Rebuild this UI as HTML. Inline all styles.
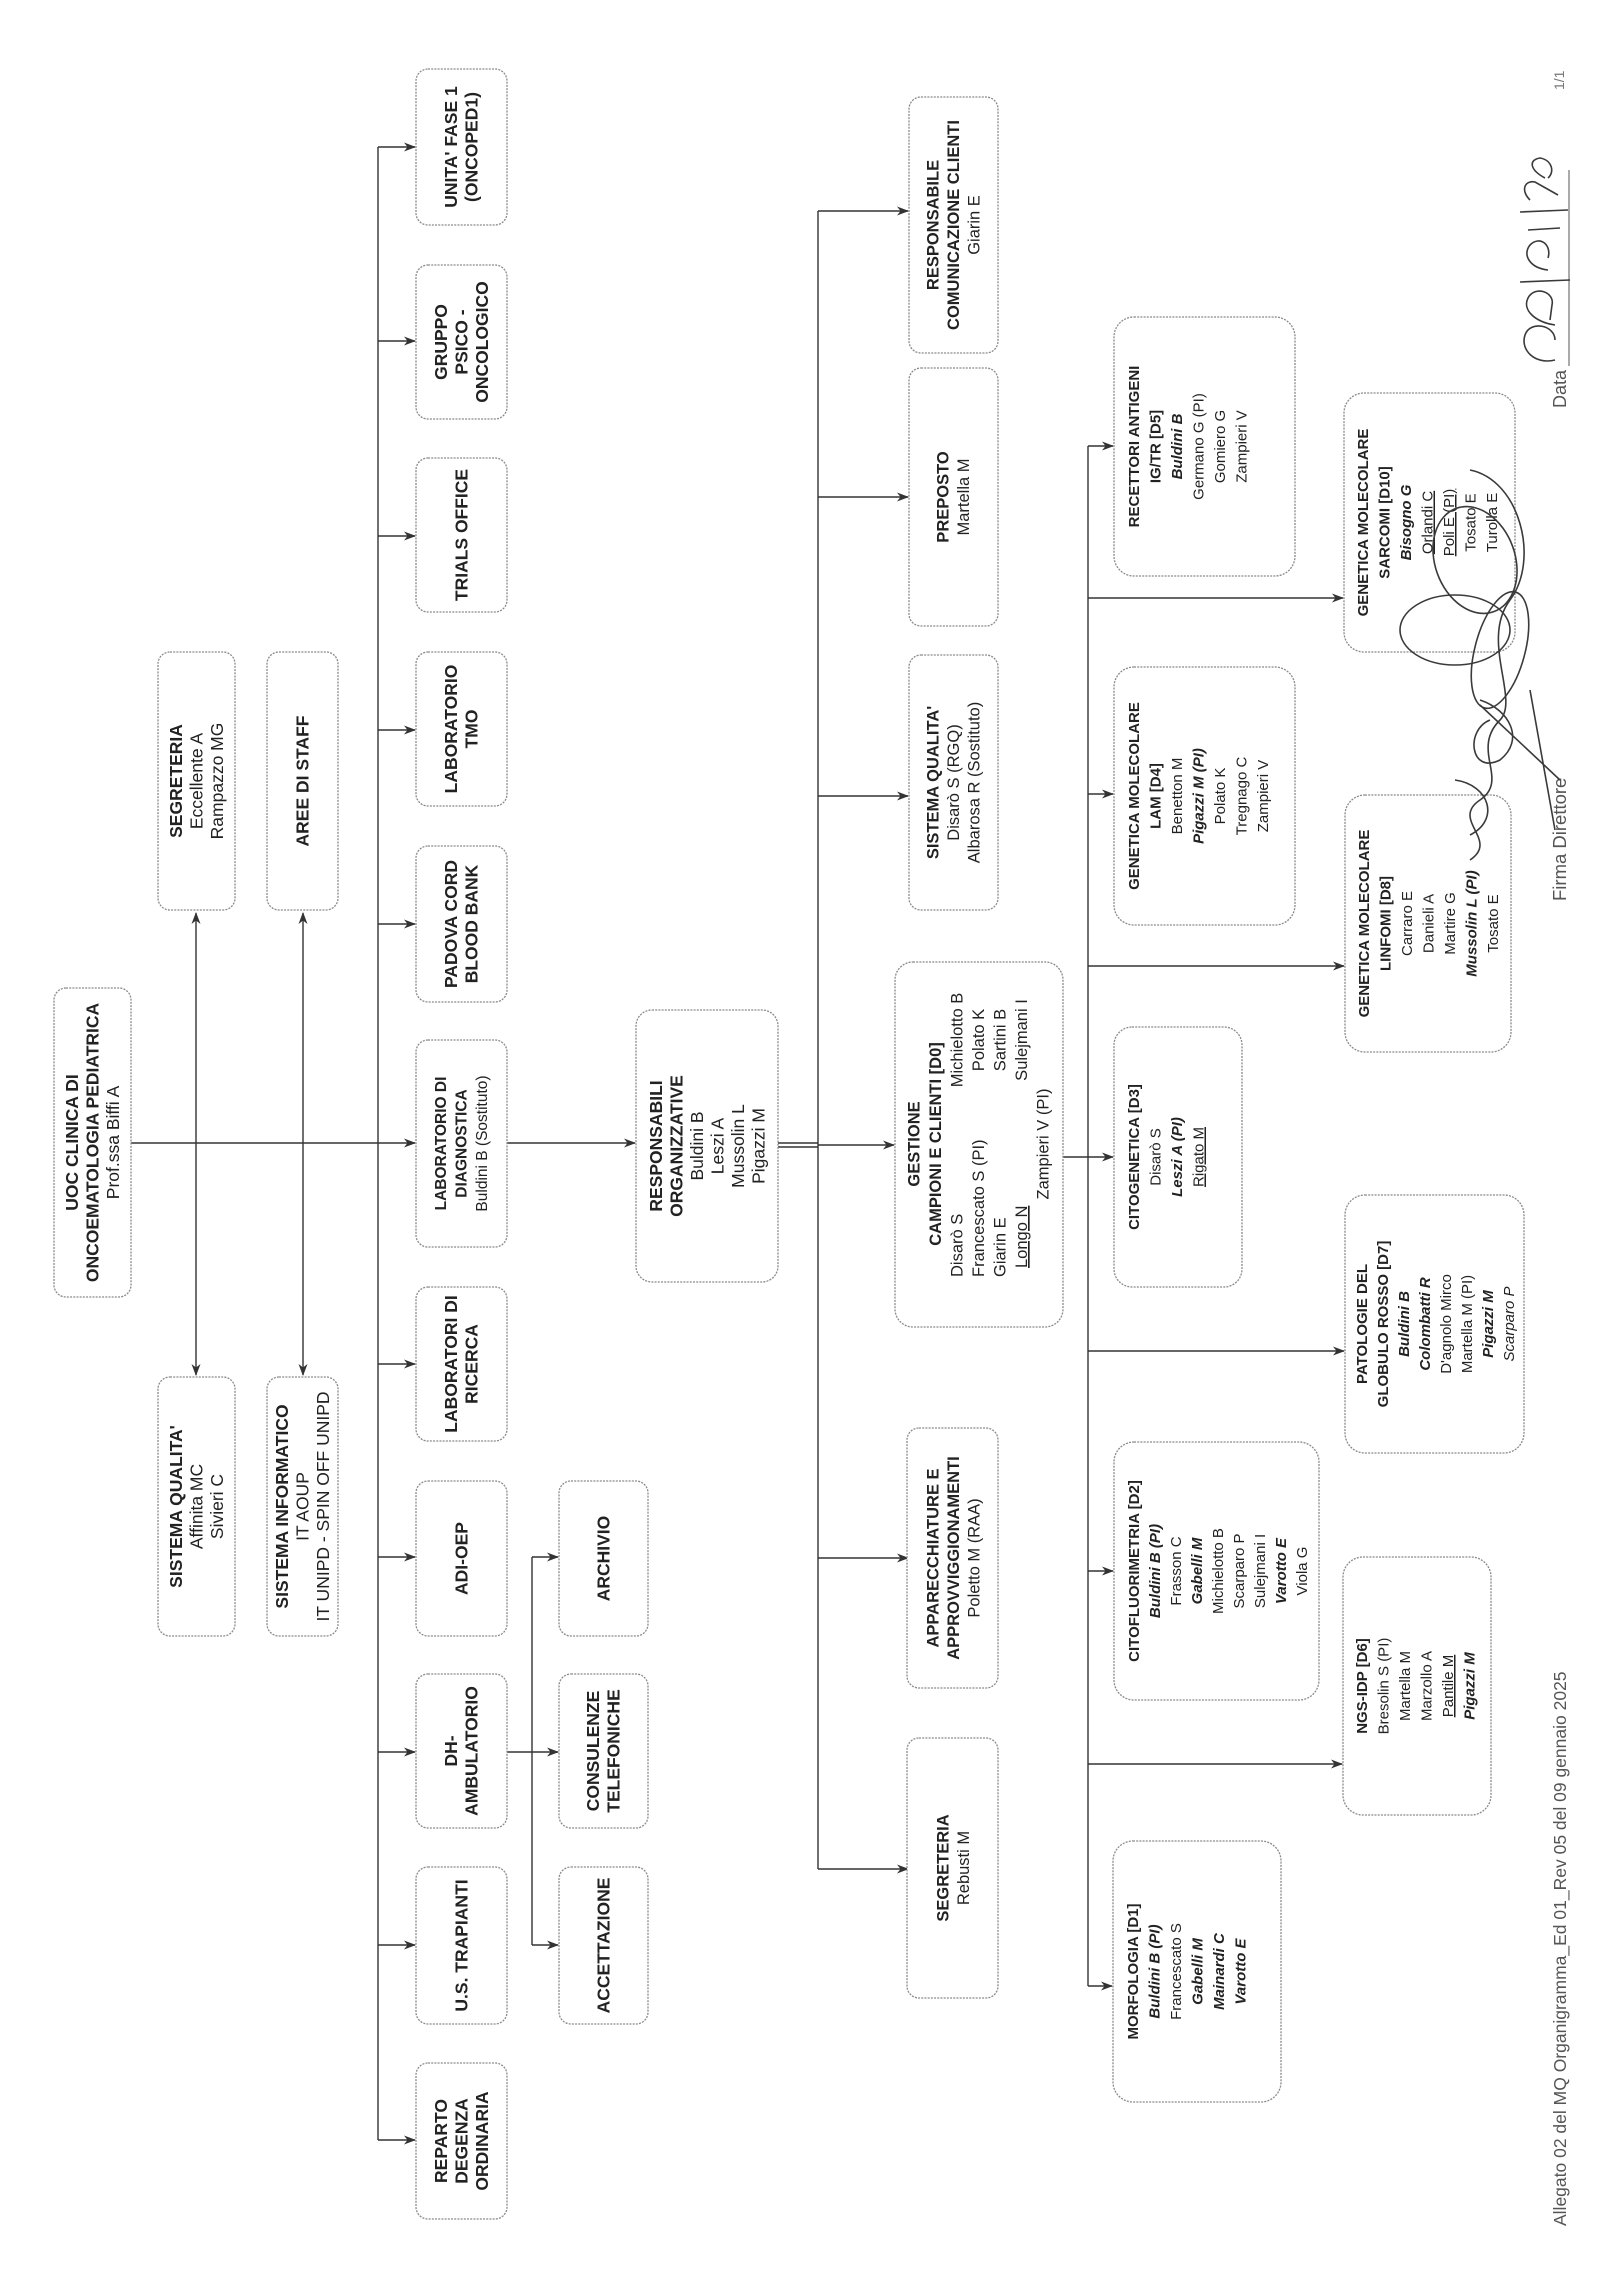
<!DOCTYPE html>
<html><head><meta charset="utf-8"><style>
html,body{margin:0;padding:0;background:#fff;}
svg{display:block;}
text{font-family:"Liberation Sans",Arial,sans-serif;font-size:15px;fill:#222;}
.L{font-size:17.5px;}
.M{font-size:16.5px;}
.b{font-weight:bold;}
.bi{font-weight:bold;font-style:italic;}
.i{font-style:italic;}
.u{text-decoration:underline;}
.box{fill:#fff;stroke:#8a8a8a;stroke-width:1.3;stroke-dasharray:2 1.2;}
.ln{stroke:#333;stroke-width:1.4;fill:none;}
.hw{stroke:#3a3a3a;stroke-width:1.6;fill:none;}
</style></head><body>
<svg width="1600" height="2290" viewBox="0 0 1600 2290" xmlns="http://www.w3.org/2000/svg">
<defs>
<marker id="a" markerWidth="12" markerHeight="10" refX="11" refY="5" orient="auto-start-reverse" markerUnits="userSpaceOnUse">
<path d="M0,0.5 L12,5 L0,9.5 L3.5,5 z" fill="#333"/>
</marker>
</defs>

<line class="ln" x1="378" y1="147" x2="378" y2="2140"/>
<line class="ln" x1="378" y1="147" x2="415" y2="147" marker-end="url(#a)"/>
<line class="ln" x1="378" y1="341" x2="415" y2="341" marker-end="url(#a)"/>
<line class="ln" x1="378" y1="536" x2="415" y2="536" marker-end="url(#a)"/>
<line class="ln" x1="378" y1="730" x2="415" y2="730" marker-end="url(#a)"/>
<line class="ln" x1="378" y1="924" x2="415" y2="924" marker-end="url(#a)"/>
<line class="ln" x1="131" y1="1143" x2="415" y2="1143" marker-end="url(#a)"/>
<line class="ln" x1="378" y1="1364" x2="415" y2="1364" marker-end="url(#a)"/>
<line class="ln" x1="378" y1="1557" x2="415" y2="1557" marker-end="url(#a)"/>
<line class="ln" x1="378" y1="1752" x2="415" y2="1752" marker-end="url(#a)"/>
<line class="ln" x1="378" y1="1945" x2="415" y2="1945" marker-end="url(#a)"/>
<line class="ln" x1="378" y1="2140" x2="415" y2="2140" marker-end="url(#a)"/>
<line class="ln" x1="196" y1="913" x2="196" y2="1375" marker-start="url(#a)" marker-end="url(#a)"/>
<line class="ln" x1="303" y1="913" x2="303" y2="1375" marker-start="url(#a)" marker-end="url(#a)"/>
<line class="ln" x1="507" y1="1752" x2="532" y2="1752"/>
<line class="ln" x1="532" y1="1557" x2="532" y2="1945"/>
<line class="ln" x1="532" y1="1557" x2="558" y2="1557" marker-end="url(#a)"/>
<line class="ln" x1="532" y1="1752" x2="558" y2="1752" marker-end="url(#a)"/>
<line class="ln" x1="532" y1="1945" x2="558" y2="1945" marker-end="url(#a)"/>
<line class="ln" x1="507" y1="1143" x2="635" y2="1143" marker-end="url(#a)"/>
<line class="ln" x1="778" y1="1143" x2="818" y2="1143"/>
<line class="ln" x1="778" y1="1147" x2="818" y2="1147"/>

<line class="ln" x1="818" y1="211" x2="818" y2="1869"/>
<line class="ln" x1="818" y1="211" x2="908" y2="211" marker-end="url(#a)"/>
<line class="ln" x1="818" y1="497" x2="908" y2="497" marker-end="url(#a)"/>
<line class="ln" x1="818" y1="796" x2="908" y2="796" marker-end="url(#a)"/>
<line class="ln" x1="818" y1="1145" x2="894" y2="1145" marker-end="url(#a)"/>
<line class="ln" x1="818" y1="1558" x2="908" y2="1558" marker-end="url(#a)"/>
<line class="ln" x1="818" y1="1869" x2="908" y2="1869" marker-end="url(#a)"/>

<line class="ln" x1="1088" y1="446" x2="1088" y2="1986"/>
<line class="ln" x1="1063" y1="1157" x2="1113" y2="1157" marker-end="url(#a)"/>
<line class="ln" x1="1088" y1="446" x2="1113" y2="446" marker-end="url(#a)"/>
<line class="ln" x1="1088" y1="794" x2="1113" y2="794" marker-end="url(#a)"/>
<line class="ln" x1="1088" y1="1571" x2="1113" y2="1571" marker-end="url(#a)"/>
<line class="ln" x1="1088" y1="1986" x2="1112" y2="1986" marker-end="url(#a)"/>
<line class="ln" x1="1088" y1="598" x2="1343" y2="598" marker-end="url(#a)"/>
<line class="ln" x1="1088" y1="966" x2="1344" y2="966" marker-end="url(#a)"/>
<line class="ln" x1="1088" y1="1351" x2="1344" y2="1351" marker-end="url(#a)"/>
<line class="ln" x1="1088" y1="1764" x2="1342" y2="1764" marker-end="url(#a)"/>

<rect class="box" x="54" y="988" width="77" height="309" rx="12"/>
<rect class="box" x="158" y="652" width="77" height="258" rx="12"/>
<rect class="box" x="267" y="652" width="71" height="258" rx="12"/>
<rect class="box" x="158" y="1377" width="77" height="259" rx="12"/>
<rect class="box" x="267" y="1377" width="71" height="259" rx="12"/>

<rect class="box" x="416" y="69" width="91" height="156" rx="12"/>
<rect class="box" x="416" y="265" width="91" height="154" rx="12"/>
<rect class="box" x="416" y="458" width="91" height="154" rx="12"/>
<rect class="box" x="416" y="652" width="91" height="154" rx="12"/>
<rect class="box" x="416" y="846" width="91" height="156" rx="12"/>
<rect class="box" x="416" y="1040" width="91" height="207" rx="12"/>
<rect class="box" x="416" y="1287" width="91" height="154" rx="12"/>
<rect class="box" x="416" y="1481" width="91" height="155" rx="12"/>
<rect class="box" x="416" y="1674" width="91" height="154" rx="12"/>
<rect class="box" x="416" y="1867" width="91" height="157" rx="12"/>
<rect class="box" x="416" y="2063" width="91" height="156" rx="12"/>

<rect class="box" x="559" y="1481" width="89" height="155" rx="12"/>
<rect class="box" x="559" y="1674" width="89" height="154" rx="12"/>
<rect class="box" x="559" y="1867" width="89" height="157" rx="12"/>

<rect class="box" x="636" y="1010" width="142" height="272" rx="16"/>

<rect class="box" x="909" y="97" width="89" height="256" rx="12"/>
<rect class="box" x="909" y="368" width="89" height="258" rx="12"/>
<rect class="box" x="909" y="655" width="89" height="255" rx="12"/>
<rect class="box" x="907" y="1428" width="91" height="260" rx="12"/>
<rect class="box" x="907" y="1738" width="91" height="260" rx="12"/>

<rect class="box" x="895" y="962" width="168" height="365" rx="18"/>

<rect class="box" x="1114" y="317" width="181" height="259" rx="20"/>
<rect class="box" x="1114" y="667" width="181" height="258" rx="20"/>
<rect class="box" x="1114" y="1027" width="128" height="260" rx="18"/>
<rect class="box" x="1114" y="1442" width="205" height="258" rx="20"/>
<rect class="box" x="1113" y="1841" width="168" height="261" rx="20"/>

<rect class="box" x="1344" y="393" width="171" height="259" rx="20"/>
<rect class="box" x="1345" y="795" width="166" height="257" rx="20"/>
<rect class="box" x="1345" y="1195" width="179" height="258" rx="20"/>
<rect class="box" x="1343" y="1557" width="148" height="258" rx="20"/>

<text class="L" transform="translate(78,1142.5) rotate(-90)" text-anchor="middle"><tspan class="b" x="0" dy="0">UOC CLINICA DI</tspan><tspan class="b" x="0" dy="20.5">ONCOEMATOLOGIA PEDIATRICA</tspan><tspan x="0" dy="20.5">Prof.ssa Biffi A</tspan></text>
<text class="L" transform="translate(182,781) rotate(-90)" text-anchor="middle"><tspan class="b" x="0" dy="0">SEGRETERIA</tspan><tspan x="0" dy="20.5">Eccellente A</tspan><tspan x="0" dy="20.5">Rampazzo MG</tspan></text>
<text class="L b" transform="translate(308.5,781) rotate(-90)" text-anchor="middle">AREE DI STAFF</text>
<text class="L" transform="translate(182,1506.5) rotate(-90)" text-anchor="middle"><tspan class="b" x="0" dy="0">SISTEMA QUALITA'</tspan><tspan x="0" dy="20.5">Affinita MC</tspan><tspan x="0" dy="20.5">Sivieri C</tspan></text>
<text class="L" transform="translate(288,1506.5) rotate(-90)" text-anchor="middle"><tspan class="b" x="0" dy="0">SISTEMA INFORMATICO</tspan><tspan x="0" dy="20.5">IT AOUP</tspan><tspan x="0" dy="20.5">IT UNIPD - SPIN OFF UNIPD</tspan></text>

<text class="L b" transform="translate(457,147) rotate(-90)" text-anchor="middle"><tspan x="0" dy="0">UNITA' FASE 1</tspan><tspan x="0" dy="20.5">(ONCOPED1)</tspan></text>
<text class="L b" transform="translate(447,342) rotate(-90)" text-anchor="middle"><tspan x="0" dy="0">GRUPPO</tspan><tspan x="0" dy="20.5">PSICO -</tspan><tspan x="0" dy="20.5">ONCOLOGICO</tspan></text>
<text class="L b" transform="translate(467.5,535) rotate(-90)" text-anchor="middle">TRIALS OFFICE</text>
<text class="L b" transform="translate(457,729) rotate(-90)" text-anchor="middle"><tspan x="0" dy="0">LABORATORIO</tspan><tspan x="0" dy="20.5">TMO</tspan></text>
<text class="L b" transform="translate(457,924) rotate(-90)" text-anchor="middle"><tspan x="0" dy="0">PADOVA CORD</tspan><tspan x="0" dy="20.5">BLOOD BANK</tspan></text>
<text transform="translate(446,1143.5) rotate(-90)" text-anchor="middle" style="font-size:15.5px"><tspan class="b" x="0" dy="0">LABORATORIO DI</tspan><tspan class="b" x="0" dy="20.5">DIAGNOSTICA</tspan><tspan x="0" dy="20.5">Buldini B (Sostituto)</tspan></text>
<text class="L b" transform="translate(457,1364) rotate(-90)" text-anchor="middle"><tspan x="0" dy="0">LABORATORI DI</tspan><tspan x="0" dy="20.5">RICERCA</tspan></text>
<text class="L b" transform="translate(467.5,1558.5) rotate(-90)" text-anchor="middle">ADI-OEP</text>
<text class="L b" transform="translate(457,1751) rotate(-90)" text-anchor="middle"><tspan x="0" dy="0">DH-</tspan><tspan x="0" dy="20.5">AMBULATORIO</tspan></text>
<text class="L b" transform="translate(467.5,1945.5) rotate(-90)" text-anchor="middle">U.S. TRAPIANTI</text>
<text class="L b" transform="translate(447,2141) rotate(-90)" text-anchor="middle"><tspan x="0" dy="0">REPARTO</tspan><tspan x="0" dy="20.5">DEGENZA</tspan><tspan x="0" dy="20.5">ORDINARIA</tspan></text>

<text class="L b" transform="translate(609.5,1558.5) rotate(-90)" text-anchor="middle">ARCHIVIO</text>
<text class="L b" transform="translate(599,1751) rotate(-90)" text-anchor="middle"><tspan x="0" dy="0">CONSULENZE</tspan><tspan x="0" dy="20.5">TELEFONICHE</tspan></text>
<text class="L b" transform="translate(609.5,1945.5) rotate(-90)" text-anchor="middle">ACCETTAZIONE</text>

<text class="L" transform="translate(662,1146) rotate(-90)" text-anchor="middle"><tspan class="b" x="0" dy="0">RESPONSABILI</tspan><tspan class="b" x="0" dy="20.5">ORGANIZZATIVE</tspan><tspan x="0" dy="20.5">Buldini B</tspan><tspan x="0" dy="20.5">Leszi A</tspan><tspan x="0" dy="20.5">Mussolin L</tspan><tspan x="0" dy="20.5">Pigazzi M</tspan></text>

<text class="M" transform="translate(938.5,225) rotate(-90)" text-anchor="middle"><tspan class="b" x="0" dy="0">RESPONSABILE</tspan><tspan class="b" x="0" dy="20.5">COMUNICAZIONE CLIENTI</tspan><tspan x="0" dy="20.5">Giarin E</tspan></text>
<text class="M" transform="translate(948.5,497) rotate(-90)" text-anchor="middle"><tspan class="b" x="0" dy="0">PREPOSTO</tspan><tspan x="0" dy="20.5">Martella M</tspan></text>
<text class="M" transform="translate(938.5,782.5) rotate(-90)" text-anchor="middle"><tspan class="b" x="0" dy="0">SISTEMA QUALITA'</tspan><tspan x="0" dy="20.5">Disarò S (RGQ)</tspan><tspan x="0" dy="20.5">Albarosa R (Sostituto)</tspan></text>
<text class="M" transform="translate(938.5,1558) rotate(-90)" text-anchor="middle"><tspan class="b" x="0" dy="0">APPARECCHIATURE E</tspan><tspan class="b" x="0" dy="20.5">APPROVVIGGIONAMENTI</tspan><tspan x="0" dy="20.5">Poletto M (RAA)</tspan></text>
<text class="M" transform="translate(948.5,1868) rotate(-90)" text-anchor="middle"><tspan class="b" x="0" dy="0">SEGRETERIA</tspan><tspan x="0" dy="20.5">Rebusti M</tspan></text>

<text class="M" transform="translate(919.5,1144) rotate(-90)" text-anchor="middle"><tspan class="b" x="0" dy="0">GESTIONE</tspan><tspan class="b" x="0" dy="21.5">CAMPIONI E CLIENTI [D0]</tspan></text>
<text class="M" transform="translate(962.5,1144) rotate(-90)" text-anchor="start"><tspan x="-133" dy="0">Disarò S</tspan><tspan x="-133" dy="21.5">Francescato S (PI)</tspan><tspan x="-133" dy="21.5">Giarin E</tspan><tspan class="u" x="-124" dy="21.5">Longo N</tspan></text>
<text class="M" transform="translate(962.5,1144) rotate(-90)" text-anchor="middle"><tspan x="104" dy="0">Michielotto B</tspan><tspan x="104" dy="21.5">Polato K</tspan><tspan x="104" dy="21.5">Sartini B</tspan><tspan x="104" dy="21.5">Sulejmani I</tspan><tspan x="0" dy="21.5">Zampieri V (PI)</tspan></text>

<text transform="translate(1139,446.5) rotate(-90)" text-anchor="middle"><tspan class="b" x="0" dy="0">RECETTORI ANTIGENI</tspan><tspan class="b" x="0" dy="21.5">IG/TR [D5]</tspan><tspan class="bi" x="0" dy="21.5">Buldini B</tspan><tspan x="0" dy="21.5">Germano G (PI)</tspan><tspan x="0" dy="21.5">Gomiero G</tspan><tspan x="0" dy="21.5">Zampieri V</tspan></text>
<text transform="translate(1139,796) rotate(-90)" text-anchor="middle"><tspan class="b" x="0" dy="0">GENETICA MOLECOLARE</tspan><tspan class="b" x="0" dy="21.5">LAM [D4]</tspan><tspan x="0" dy="21.5">Benetton M</tspan><tspan class="bi" x="0" dy="21.5">Pigazzi M (PI)</tspan><tspan x="0" dy="21.5">Polato K</tspan><tspan x="0" dy="21.5">Tregnago C</tspan><tspan x="0" dy="21.5">Zampieri V</tspan></text>
<text transform="translate(1139,1157) rotate(-90)" text-anchor="middle"><tspan class="b" x="0" dy="0">CITOGENETICA [D3]</tspan><tspan x="0" dy="21.5">Disarò S</tspan><tspan class="bi" x="0" dy="21.5">Leszi A (PI)</tspan><tspan class="u" x="0" dy="21.5">Rigato M</tspan></text>
<text transform="translate(1139,1571) rotate(-90)" text-anchor="middle"><tspan class="b" x="0" dy="0">CITOFLUORIMETRIA [D2]</tspan><tspan class="bi" x="0" dy="21">Buldini B (PI)</tspan><tspan x="0" dy="21">Frasson C</tspan><tspan class="bi" x="0" dy="21">Gabelli M</tspan><tspan x="0" dy="21">Michielotto B</tspan><tspan x="0" dy="21">Scarparo P</tspan><tspan x="0" dy="21">Sulejmani I</tspan><tspan class="bi" x="0" dy="21">Varotto E</tspan><tspan x="0" dy="21">Viola G</tspan></text>
<text transform="translate(1138,1971.5) rotate(-90)" text-anchor="middle"><tspan class="b" x="0" dy="0">MORFOLOGIA [D1]</tspan><tspan class="bi" x="0" dy="21.5">Buldini B (PI)</tspan><tspan x="0" dy="21.5">Francescato S</tspan><tspan class="bi" x="0" dy="21.5">Gabelli M</tspan><tspan class="bi" x="0" dy="21.5">Mainardi C</tspan><tspan class="bi" x="0" dy="21.5">Varotto E</tspan></text>

<text transform="translate(1368,522.5) rotate(-90)" text-anchor="middle"><tspan class="b" x="0" dy="0">GENETICA MOLECOLARE</tspan><tspan class="b" x="0" dy="21.5">SARCOMI [D10]</tspan><tspan class="bi" x="0" dy="21.5">Bisogno G</tspan><tspan class="u" x="0" dy="21.5">Orlandi C</tspan><tspan class="u" x="0" dy="21.5">Poli E (PI)</tspan><tspan x="0" dy="21.5">Tosato E</tspan><tspan x="0" dy="21.5">Turolla E</tspan></text>
<text transform="translate(1369,923.5) rotate(-90)" text-anchor="middle"><tspan class="b" x="0" dy="0">GENETICA MOLECOLARE</tspan><tspan class="b" x="0" dy="21.5">LINFOMI [D8]</tspan><tspan x="0" dy="21.5">Carraro E</tspan><tspan x="0" dy="21.5">Danieli A</tspan><tspan x="0" dy="21.5">Martire G</tspan><tspan class="bi" x="0" dy="21.5">Mussolin L (PI)</tspan><tspan x="0" dy="21.5">Tosato E</tspan></text>
<text transform="translate(1367,1324) rotate(-90)" text-anchor="middle"><tspan class="b" x="0" dy="0">PATOLOGIE DEL</tspan><tspan class="b" x="0" dy="21">GLOBULO ROSSO [D7]</tspan><tspan class="bi" x="0" dy="21">Buldini B</tspan><tspan class="bi" x="0" dy="21">Colombatti R</tspan><tspan x="0" dy="21">D'agnolo Mirco</tspan><tspan x="0" dy="21">Martella M (PI)</tspan><tspan class="bi" x="0" dy="21">Pigazzi M</tspan><tspan class="i" x="0" dy="21">Scarparo P</tspan></text>
<text transform="translate(1367,1686) rotate(-90)" text-anchor="middle"><tspan class="b" x="0" dy="0">NGS-IDP [D6]</tspan><tspan x="0" dy="21.5">Bresolin S (PI)</tspan><tspan x="0" dy="21.5">Martella M</tspan><tspan x="0" dy="21.5">Marzollo A</tspan><tspan class="u" x="0" dy="21.5">Pantile M</tspan><tspan class="bi" x="0" dy="21.5">Pigazzi M</tspan></text>

<text transform="translate(1566,2226) rotate(-90)" text-anchor="start" style="font-size:17.5px;fill:#555">Allegato 02 del MQ Organigramma_Ed 01_Rev 05 del 09 gennaio 2025</text>
<text transform="translate(1566,901) rotate(-90)" text-anchor="start" style="font-size:18.5px;fill:#555">Firma Direttore</text>
<text transform="translate(1566,408) rotate(-90)" text-anchor="start" style="font-size:18px;fill:#555">Data</text>
<text transform="translate(1564,90) rotate(-90)" text-anchor="start" style="font-size:14px;fill:#777">1/1</text>
<line x1="1569" y1="366" x2="1569" y2="170" stroke="#555" stroke-width="1"/>

<path class="hw" d="M1555,360 C1535,365 1520,350 1525,335 C1530,320 1555,325 1555,340 M1555,325 C1535,322 1522,310 1528,298 C1535,285 1555,292 1552,305 L1550,320"/>
<path class="hw" d="M1520,282 L1570,280"/>
<path class="hw" d="M1548,270 C1530,268 1522,255 1530,245 C1540,235 1552,245 1548,258 M1528,230 L1560,228"/>
<path class="hw" d="M1520,212 L1568,210"/>
<path class="hw" d="M1530,200 C1520,190 1525,180 1535,182 L1558,195 M1545,178 C1530,170 1528,160 1540,158 C1552,160 1555,172 1548,178"/>

<ellipse class="hw" cx="1475" cy="560" rx="40" ry="55" transform="rotate(-20 1475 560)"/>
<ellipse class="hw" cx="1455" cy="630" rx="55" ry="35"/>
<ellipse class="hw" cx="1500" cy="650" rx="25" ry="60" transform="rotate(15 1500 650)"/>
<path class="hw" d="M1470,470 C1520,480 1540,560 1510,600 C1480,640 1520,700 1500,720 C1470,750 1510,780 1480,800 C1450,820 1500,840 1470,860"/>
<path class="hw" d="M1480,700 C1510,710 1525,740 1500,760 C1470,775 1465,730 1490,720 M1455,780 C1490,785 1500,820 1470,835"/>
<path class="hw" d="M1480,705 L1560,780 M1530,690 L1555,830"/>
</svg>
</body></html>
